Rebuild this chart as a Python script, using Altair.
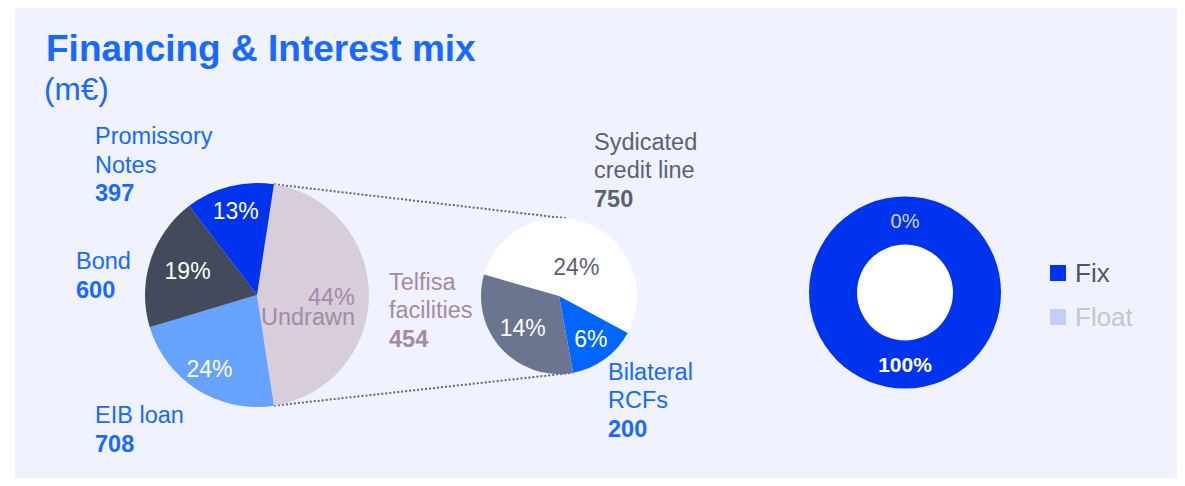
import math
import altair as alt
import pandas as pd

# ---------------- data ----------------
pie1_names = ["Undrawn", "EIB loan", "Bond", "Promissory Notes"]
pie1_labels = ["Undrawn", "EIB loan", "Bond", "Promissory\nNotes"]
pie1_values = [1404, 708, 600, 397]
pie1_pct = ["44%", "24%", "19%", "13%"]

pie2_names = ["Sydicated credit line", "Bilateral RCFs", "Telfisa facilities"]
pie2_labels = ["Sydicated\ncredit line", "Bilateral\nRCFs", "Telfisa\nfacilities"]
pie2_values = [750, 200, 454]
pie2_pct = ["24%", "6%", "14%"]

rate_names = ["Fix", "Float"]
rate_values = [100, 0]
rate_pct = ["100%", "0%"]

title_text = "Financing & Interest mix"
subtitle_text = "(m€)"

# ---------------- styles / layout ----------------
pie1_colors = ["#d8cddb", "#66a3ff", "#434a5b", "#0033ee"]
pie2_colors = ["#ffffff", "#0066ff", "#6b7590"]
rate_colors = ["#0033ee", "#c3cff8"]
rate_text_colors = ["#4d5470", "#c6c6c6"]

BLUE = "#1769ff"
MAUVE = "#a38aa8"
SLATE = "#5a6176"
BG = "#f0f3ff"
FONT = "Liberation Sans"

OX, OY = 15, 8          # page offset of the plot area
def vx(x): return x - OX
def vy(y): return y - OY

P1 = (257, 295, 112)
P2 = (559, 296, 78)
D = (905, 292.5, 96, 48)
PIE2_START_DEG = 286
LBL = 23.5
PCT = 23
LH = 28.4


def make_df(names, labels, values, pct):
    return pd.DataFrame({"name": names, "label": labels, "value": values,
                         "pct": pct, "k": list(range(len(names)))})


df1 = make_df(pie1_names, pie1_labels, pie1_values, pie1_pct)
df2 = make_df(pie2_names, pie2_labels, pie2_values, pie2_pct)
dfr = make_df(rate_names, rate_names, rate_values, rate_pct)
one = pd.DataFrame({"a": [1]})

tot1 = sum(pie1_values)
frac_u = pie1_values[0] / tot1
S1 = math.pi / 2 - math.pi * frac_u
S2 = math.radians(PIE2_START_DEG)
S3 = 0.0


def theta_enc(start):
    return alt.Theta("value:Q", stack=True,
                     scale=alt.Scale(range=[start, start + 2 * math.pi]))


def arc_layer(df, names, colors, start, cx, cy, r, inner=0):
    return alt.Chart(df).mark_arc(radius=r, innerRadius=inner).encode(
        theta=theta_enc(start),
        color=alt.Color("name:N", scale=alt.Scale(domain=names, range=colors), legend=None),
        order=alt.Order("k:Q"),
        x=alt.value(vx(cx)), y=alt.value(vy(cy)),
    )


def pct_layer(df, start, cx, cy, which, radius, color, size=PCT, bold=False,
              align="center", baseline="middle", dx=0, dy=0, lh=None, field="pct"):
    mk = dict(radius=radius, fontSize=size, fontWeight="bold" if bold else "normal",
              align=align, baseline=baseline, dx=dx, dy=dy, color=color,
              lineBreak="\n", font=FONT)
    if lh:
        mk["lineHeight"] = lh
    return alt.Chart(df).transform_calculate(
        both="datum.pct + '\\n' + datum.name"
    ).mark_text(**mk).encode(
        theta=theta_enc(start),
        order=alt.Order("k:Q"),
        text=alt.Text(field + ":N"),
        opacity=alt.condition(alt.datum.name == which, alt.value(1), alt.value(0)),
        x=alt.value(vx(cx)), y=alt.value(vy(cy)),
    )


def name_label(df, which, color, x, y, value_color=None):
    label = df.loc[df["name"] == which, "label"].iloc[0]
    n = label.count("\n") + 1
    base = alt.Chart(df).transform_filter(alt.datum.name == which)
    t1 = base.mark_text(align="left", baseline="alphabetic", fontSize=LBL, font=FONT,
                        color=color, lineBreak="\n", lineHeight=LH).encode(
        text="label:N", x=alt.value(vx(x)), y=alt.value(vy(y)))
    t2 = base.mark_text(align="left", baseline="alphabetic", fontSize=LBL, font=FONT,
                        fontWeight="bold", color=value_color or color).encode(
        text=alt.Text("value:Q", format="d"), x=alt.value(vx(x)), y=alt.value(vy(y + n * LH)))
    return [t1, t2]


def polar(cx, cy, r, a):
    return cx + r * math.sin(a), cy - r * math.cos(a)


layers = []

# titles
layers.append(alt.Chart(one).mark_text(align="left", baseline="alphabetic", fontSize=37,
                                       fontWeight="bold", color=BLUE, font=FONT).encode(
    text=alt.value(title_text), x=alt.value(vx(46)), y=alt.value(vy(61))))
layers.append(alt.Chart(one).mark_text(align="left", baseline="alphabetic", fontSize=31.5,
                                       color=BLUE, font=FONT).encode(
    text=alt.value(subtitle_text), x=alt.value(vx(44)), y=alt.value(vy(100))))

# connector lines
cx1, cy1, r1 = P1
cx2, cy2, r2 = P2
u_top = polar(cx1, cy1, r1, S1)
u_bot = polar(cx1, cy1, r1, S1 + 2 * math.pi * frac_u)
p2_top = polar(cx2, cy2, r2, math.radians(6.6))
p2_bot = polar(cx2, cy2, r2, S2 + 2 * math.pi * (pie2_values[0] + pie2_values[1]) / sum(pie2_values))
for a, b in [(u_top, p2_top), (u_bot, p2_bot)]:
    layers.append(alt.Chart(one).mark_rule(strokeDash=[2, 2], strokeWidth=2, color="#5f667a").encode(
        x=alt.value(vx(a[0])), y=alt.value(vy(a[1])),
        x2=alt.value(vx(b[0])), y2=alt.value(vy(b[1]))))

# pie 1
layers.append(arc_layer(df1, pie1_names, pie1_colors, S1, cx1, cy1, r1))
layers.append(pct_layer(df1, S1, cx1, cy1, "Promissory Notes", 86, "white"))
layers.append(pct_layer(df1, S1, cx1, cy1, "Bond", 73, "white"))
layers.append(pct_layer(df1, S1, cx1, cy1, "EIB loan", 89, "white"))
layers.append(pct_layer(df1, S1, cx1, cy1, "Undrawn", 98, MAUVE, size=LBL, align="right",
                        baseline="alphabetic", dy=10, lh=20, field="both"))
layers += name_label(df1, "Promissory Notes", BLUE, 95, 144.3)
layers += name_label(df1, "Bond", BLUE, 76, 269.3)
layers += name_label(df1, "EIB loan", BLUE, 95, 423.3)

# pie 2
layers.append(arc_layer(df2, pie2_names, pie2_colors, S2, cx2, cy2, r2))
layers.append(pct_layer(df2, S2, cx2, cy2, "Sydicated credit line", 30, SLATE, dx=6))
layers.append(pct_layer(df2, S2, cx2, cy2, "Telfisa facilities", 49, "white"))
layers.append(pct_layer(df2, S2, cx2, cy2, "Bilateral RCFs", 54, "white"))
layers += name_label(df2, "Sydicated credit line", SLATE, 594, 150)
layers += name_label(df2, "Telfisa facilities", MAUVE, 389, 290)
layers += name_label(df2, "Bilateral RCFs", BLUE, 608, 380)

# donut
dcx, dcy, dro, dri = D
layers.append(alt.Chart(one).mark_arc(radius=dri, theta=0, theta2=2 * math.pi, color="white").encode(
    x=alt.value(vx(dcx)), y=alt.value(vy(dcy))))
layers.append(arc_layer(dfr, rate_names, rate_colors, S3, dcx, dcy, dro, inner=dri))
layers.append(pct_layer(dfr, S3, dcx, dcy, "Fix", 73.5, "white", size=21, bold=True))
layers.append(pct_layer(dfr, S3, dcx, dcy, "Float", 70.5, "#d3d6e2", size=20))

# legend
y_leg = alt.Y("name:N", scale=alt.Scale(type="point", domain=rate_names,
                                         range=[vy(273), vy(317)], padding=0), axis=None)
layers.append(alt.Chart(dfr).mark_square(size=256, opacity=1).encode(
    x=alt.value(vx(1058)), y=y_leg,
    color=alt.Color("name:N", scale=alt.Scale(domain=rate_names, range=rate_colors), legend=None)))
layers.append(alt.Chart(dfr).mark_text(align="left", baseline="middle", fontSize=26, font=FONT, dy=1).encode(
    x=alt.value(vx(1075)), y=y_leg, text="name:N",
    color=alt.Color("name:N", scale=alt.Scale(domain=rate_names, range=rate_text_colors), legend=None)))

chart = alt.layer(*layers).resolve_scale(
    theta="independent", color="independent"
).properties(
    width=1162, height=470,
    padding={"left": 7, "top": 0, "right": 0, "bottom": 0},
    autosize=alt.AutoSizeParams(type="none"),
    background="white",
).configure_view(fill=BG, strokeWidth=0).configure_text(font=FONT)

chart.save("out.html", embed_options={"renderer": "svg", "actions": False})
